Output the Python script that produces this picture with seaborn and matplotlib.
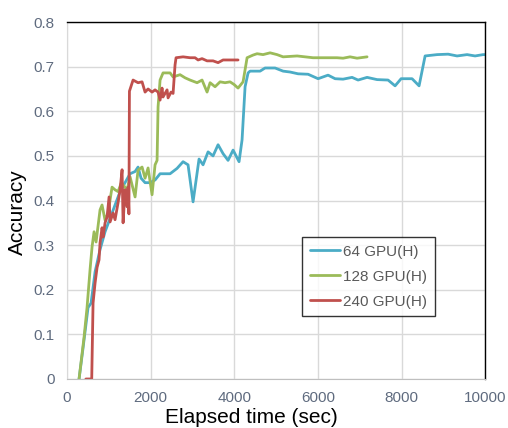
import pandas as pd
import seaborn as sns
import matplotlib.pyplot as plt

# 64 GPU(H)
t_64 = [287, 383, 502, 574, 670, 789, 909, 1029, 1148, 1268, 1387, 1507, 1627, 1698,
        1770, 1866, 1986, 2105, 2225, 2392, 2464, 2631, 2775, 2894, 3014, 3157, 3253,
        3373, 3492, 3612, 3732, 3851, 3971, 4114, 4186, 4258, 4330, 4377, 4617, 4736,
        4975, 5167, 5334, 5526, 5765, 6004, 6243, 6411, 6602, 6817, 6961, 7176, 7415,
        7678, 7846, 7990, 8252, 8420, 8564, 8851, 9114, 9329, 9568, 9759, 9951, 10000]
acc_64 = [0.0, 0.07, 0.16, 0.17, 0.24, 0.29, 0.33, 0.36, 0.39, 0.42, 0.44, 0.46, 0.465, 0.475,
          0.45, 0.44, 0.44, 0.446, 0.46, 0.46, 0.46, 0.472, 0.487, 0.48, 0.397, 0.493, 0.48,
          0.509, 0.50, 0.525, 0.505, 0.49, 0.513, 0.487, 0.536, 0.655, 0.686, 0.69, 0.69, 0.697,
          0.697, 0.69, 0.688, 0.684, 0.683, 0.673, 0.681, 0.673, 0.672, 0.676, 0.670, 0.676, 0.671,
          0.670, 0.657, 0.673, 0.673, 0.657, 0.724, 0.727, 0.728, 0.724, 0.727, 0.724, 0.727, 0.727]

# 128 GPU(H)
t_128 = [287, 407, 478, 550, 598, 646, 694, 789, 837, 909, 981, 1076, 1148, 1220, 1300,
         1435, 1507, 1627, 1698, 1794, 1866, 1938, 2033, 2105, 2153, 2177, 2225, 2296,
         2464, 2536, 2703, 2823, 2942, 3110, 3229, 3349, 3421, 3540, 3660, 3779, 3899,
         3995, 4090, 4210, 4306, 4449, 4545, 4688, 4856, 5023, 5167, 5502, 5884, 6458,
         6602, 6769, 6937, 7176]
acc_128 = [0.0, 0.094, 0.16, 0.245, 0.296, 0.33, 0.307, 0.379, 0.39, 0.356, 0.372, 0.43, 0.424,
           0.42, 0.44, 0.424, 0.453, 0.408, 0.468, 0.475, 0.45, 0.473, 0.413, 0.48, 0.49, 0.61,
           0.67, 0.686, 0.686, 0.677, 0.682, 0.675, 0.67, 0.664, 0.67, 0.643, 0.664, 0.655,
           0.666, 0.664, 0.666, 0.66, 0.652, 0.666, 0.72, 0.726, 0.729, 0.727, 0.731, 0.727,
           0.722, 0.724, 0.72, 0.72, 0.719, 0.722, 0.719, 0.722]

# 240 GPU(H)
t_240 = [450, 590, 622, 670, 718, 765, 789, 837, 861, 909, 957, 1005, 1029, 1100, 1148,
         1220, 1268, 1316, 1340, 1387, 1435, 1459, 1480, 1492, 1579, 1698, 1794, 1866,
         1938, 2033, 2105, 2177, 2225, 2272, 2296, 2392, 2416, 2488, 2536, 2583, 2607,
         2775, 2942, 3062, 3134, 3229, 3349, 3492, 3612, 3732, 3947, 4090]
acc_240 = [0.0, 0.0, 0.17, 0.215, 0.25, 0.267, 0.305, 0.339, 0.318, 0.35, 0.363, 0.408, 0.352,
           0.372, 0.357, 0.395, 0.424, 0.469, 0.35, 0.424, 0.386, 0.43, 0.37, 0.645, 0.67,
           0.664, 0.666, 0.643, 0.65, 0.643, 0.648, 0.643, 0.625, 0.652, 0.632, 0.648, 0.63,
           0.643, 0.64, 0.704, 0.72, 0.722, 0.72, 0.72, 0.715, 0.718, 0.713, 0.713, 0.709,
           0.715, 0.715, 0.715]

labels = ["64 GPU(H)", "128 GPU(H)", "240 GPU(H)"]
colors = ["#4bacc6", "#9bbb59", "#c0504d"]

df = pd.concat([
    pd.DataFrame({"time": t, "acc": a, "run": lab})
    for t, a, lab in zip([t_64, t_128, t_240], [acc_64, acc_128, acc_240], labels)
])

sns.set_style("whitegrid")
plt.rcParams["font.family"] = ["Liberation Sans", "DejaVu Sans"]

fig = plt.figure(figsize=(5.08, 4.28), dpi=100)
ax = fig.add_axes([0.132, 0.1145, 0.823, 0.834])

sns.lineplot(data=df, x="time", y="acc", hue="run", palette=colors,
             hue_order=labels, sort=False, estimator=None, linewidth=2.0, ax=ax)

ax.set_xlim(0, 10000)
ax.set_ylim(0, 0.8)
ax.set_xticks(range(0, 10001, 2000))
ax.set_yticks([i / 10 for i in range(9)])
ax.set_yticklabels(["0"] + [f"{i / 10:.1f}" for i in range(1, 9)])
ax.grid(True, color="#d9d9d9", linewidth=1.0)
ax.tick_params(axis="both", length=0, labelsize=11, labelcolor="#5f6b7f", pad=9)

for side in ["top", "right"]:
    ax.spines[side].set_color("black")
    ax.spines[side].set_linewidth(1.0)
ax.spines["left"].set_color("#d9d9d9")
ax.spines["bottom"].set_color("#bfbfbf")

ax.set_xlabel("Elapsed time (sec)", fontsize=15, color="black")
ax.set_ylabel("Accuracy", fontsize=15, color="black")
ax.xaxis.set_label_coords(0.44, -0.082)
ax.yaxis.set_label_coords(-0.097, 0.468)

leg = ax.legend(loc="upper left", bbox_to_anchor=(0.562, 0.398), frameon=True,
                fancybox=False, fontsize=11, handlelength=2.0, handletextpad=0.2,
                borderpad=0.5, labelspacing=0.72, borderaxespad=0)
leg.get_frame().set_edgecolor("black")
leg.get_frame().set_linewidth(1.0)
for txt in leg.get_texts():
    txt.set_color("#595959")

fig.savefig("out.png", dpi=100)
